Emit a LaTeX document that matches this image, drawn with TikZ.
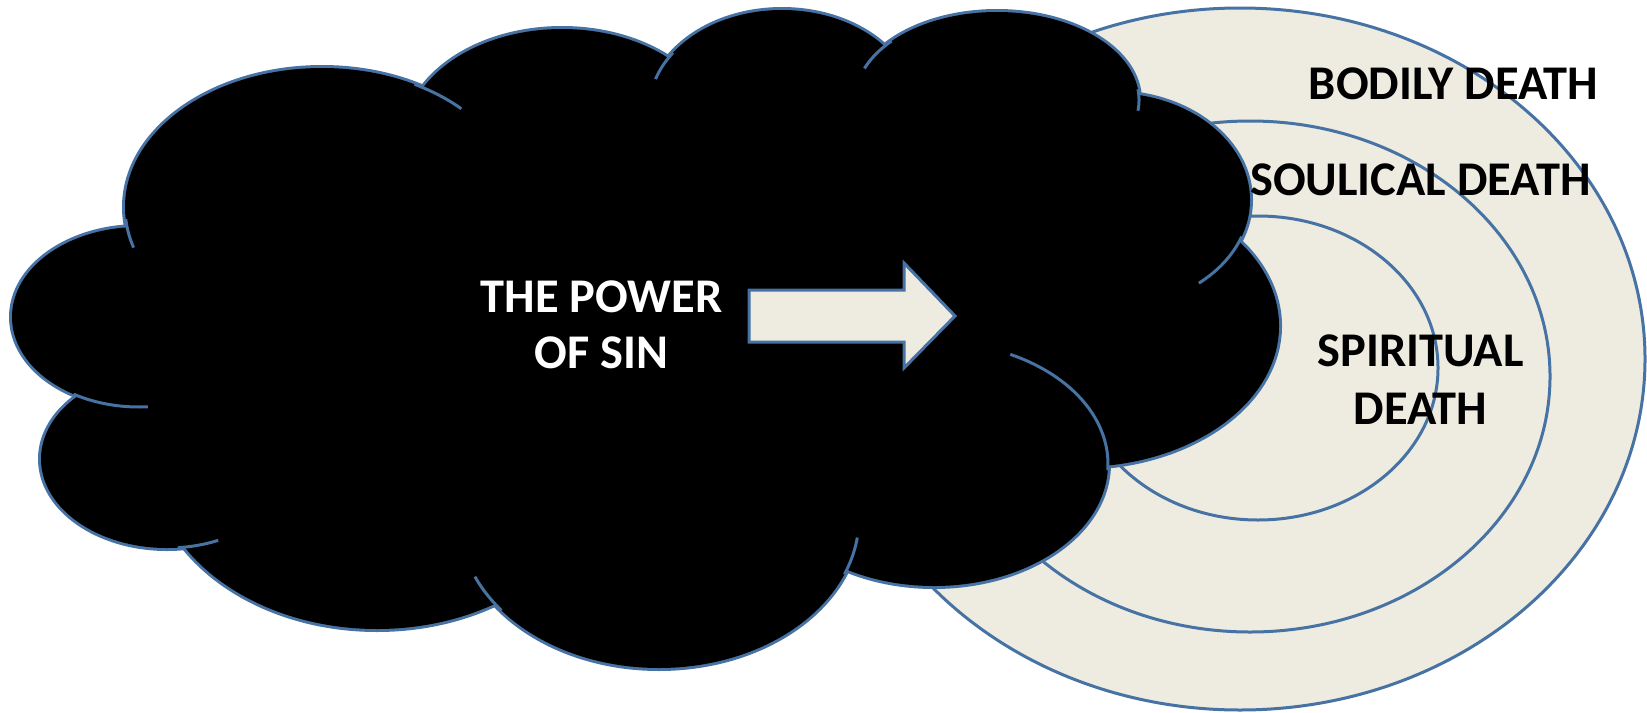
\documentclass[tikz,border=0pt]{standalone}
\usepackage{fontspec}
\setmainfont{Carlito}
\definecolor{edge}{RGB}{70,114,164}
\definecolor{paper}{RGB}{238,236,225}
\begin{document}
\begin{tikzpicture}[x=0.5pt,y=-0.5pt,
  ring/.style={fill=paper,draw=edge,line width=1.5pt},
  lobeline/.style={draw=edge,line width=3pt},
  tailline/.style={draw=edge,line width=1.5pt},
  txt/.style={font=\fontsize{24.2}{28}\selectfont\bfseries,inner sep=0pt,anchor=base}]
\useasboundingbox (0,0) rectangle (1647,712);
% concentric rings
\draw[ring] (1240,359) ellipse [x radius=405, y radius=351];
\draw[ring] (1250,376.5) ellipse [x radius=300, y radius=255.5];
\draw[ring] (1258,368) ellipse [x radius=180, y radius=152];
% cloud lobes: outline
\foreach \cx/\cy/\rx/\ry in {322/207/197/139, 562/139/157/110, 782/110/133/100,
  997/100/142/88, 1112/200/138/107, 1079/326/200/141, 934/464/174/122,
  659/518/200/150, 377/459/225/170, 167/459/126/89, 139/317/127/90}
  {\draw[lobeline] (\cx,\cy) ellipse [x radius=\rx, y radius=\ry];}
% cloud lobes: fill
\foreach \cx/\cy/\rx/\ry in {322/207/197/139, 562/139/157/110, 782/110/133/100,
  997/100/142/88, 1112/200/138/107, 1079/326/200/141, 934/464/174/122,
  659/518/200/150, 377/459/225/170, 167/459/126/89, 139/317/127/90}
  {\fill[black] (\cx,\cy) ellipse [x radius=\rx, y radius=\ry];}
\fill[black] (322,207) -- (562,139) -- (782,110) -- (997,100) -- (1112,200) -- (1079,326)
  -- (934,464) -- (659,518) -- (377,459) -- (167,459) -- (139,317) -- cycle;
% inner arcs of the cloud
\foreach \cx/\cy/\rx/\ry/\ta/\tb in {322/207/197/139/163/175, 322/207/197/139/-62/-45,
  782/110/133/100/-162/-145, 997/100/142/88/-159/-138, 997/100/142/88/-7/7,
  1112/200/138/107/20/51, 934/464/174/122/-64/3, 659/518/200/150/7.5/22,
  659/518/200/150/142/157, 167/459/126/89/66/85, 139/317/127/90/86/121}
  {\draw[tailline] plot[domain=\ta:\tb,samples=30] ({\cx+\rx*cos(\x)},{\cy+\ry*sin(\x)});}
% arrow
\draw[fill=paper,draw=edge,line width=1.5pt,line join=miter]
  (749,290) -- (904,290) -- (904,263) -- (955,316) -- (904,368) -- (904,342) -- (749,342) -- cycle;
% texts
\node[txt,text=white] (power1) at (601.5,312) {THE POWER};
\node[txt,text=white] (power2) at (601.5,368) {OF SIN};
\node[txt] (bodily) at (1453.5,99) {BODILY DEATH};
\node[txt] (soulical) at (1420.5,195) {SOULICAL DEATH};
\node[txt] (spirit1) at (1420.5,366) {SPIRITUAL};
\node[txt] (spirit2) at (1420.5,424) {DEATH};
\end{tikzpicture}
\end{document}
